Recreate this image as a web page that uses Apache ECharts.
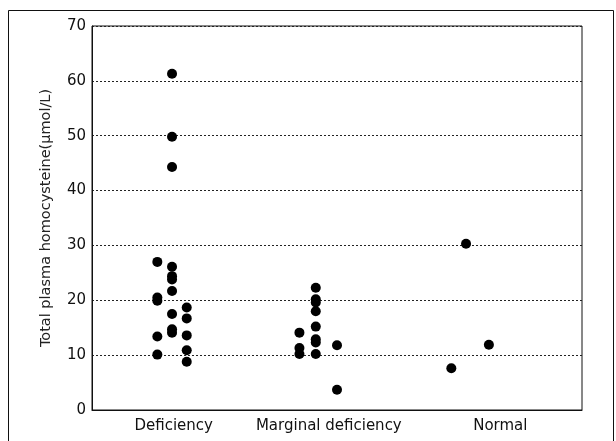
<!DOCTYPE html>
<html>
<head>
<meta charset="utf-8">
<script src="https://cdn.jsdelivr.net/npm/echarts@6/dist/echarts.min.js"></script>
<style>html,body{margin:0;padding:0;background:#fff}#c{width:616px;height:441px}</style>
</head>
<body>
<div id="c"></div>
<script>
const categories = ['Deficiency', 'Marginal deficiency', 'Normal'];
const categoryLabelX = [0.5, 1.45, 2.5];
const yTicks = [0, 10, 20, 30, 40, 50, 60, 70];

// Column positions (in category units) and values for each jittered column
const deficiencyColX = [0.40, 0.49, 0.58];
const deficiencyCols = [
  [27.0, 20.5, 19.9, 13.4, 10.1],
  [61.3, 49.8, 44.3, 26.1, 24.4, 23.8, 21.7, 17.5, 14.7, 14.1],
  [18.7, 16.7, 13.6, 10.9, 8.8]
];
const marginalColX = [1.27, 1.37, 1.50];
const marginalCols = [
  [14.1, 11.3, 10.2],
  [22.3, 20.2, 19.6, 18.0, 15.2, 12.9, 12.3, 10.2],
  [11.8, 3.7]
];
const normalColX = [2.20, 2.29, 2.43];
const normalCols = [
  [7.6],
  [30.3],
  [11.9]
];

function toPoints(colX, cols) {
  const pts = [];
  cols.forEach((vals, i) => vals.forEach(v => pts.push([colX[i], v])));
  return pts;
}

const data = []
  .concat(toPoints(deficiencyColX, deficiencyCols))
  .concat(toPoints(marginalColX, marginalCols))
  .concat(toPoints(normalColX, normalCols));

const FONT = 'DejaVu Sans';
const chart = echarts.init(document.getElementById('c'), null, {renderer: 'canvas'});
chart.setOption({
  animation: false,
  backgroundColor: '#fff',
  grid: {left: 92, right: 34, top: 26, bottom: 31, show: true, borderColor: '#111', borderWidth: 1, backgroundColor: 'transparent'},
  graphic: [{
    type: 'rect', silent: true,
    shape: {x: 8.5, y: 10.5, width: 605, height: 440},
    style: {fill: 'none', stroke: '#111', lineWidth: 1}
  }],
  xAxis: {
    type: 'value', min: 0, max: 3,
    axisLine: {show: true, lineStyle: {color: '#111', width: 1}},
    axisTick: {show: false},
    splitLine: {show: false},
    axisLabel: {
      customValues: categoryLabelX,
      formatter: function (v) {
        const i = categoryLabelX.findIndex(c => Math.abs(c - v) < 1e-6);
        return i >= 0 ? categories[i] : '';
      },
      color: '#111', fontFamily: FONT, fontSize: 15, margin: 9
    }
  },
  yAxis: {
    type: 'value', min: 0, max: 70, interval: 10,
    name: 'Total plasma homocysteine(\u03bcmol/L)',
    nameLocation: 'middle', nameGap: 38, nameRotate: 90,
    nameTextStyle: {color: '#222', fontFamily: FONT, fontSize: 14.5},
    axisLine: {show: true, lineStyle: {color: '#111', width: 1}},
    axisTick: {show: false},
    axisLabel: {
      customValues: yTicks,
      color: '#111', fontFamily: FONT, fontSize: 15, margin: 6
    },
    splitLine: {show: true, lineStyle: {color: '#222', type: [2, 2], width: 1}}
  },
  series: [{
    type: 'scatter',
    data: data,
    symbol: 'circle',
    symbolSize: 10,
    itemStyle: {color: '#000', opacity: 1}
  }]
});
</script>
</body>
</html>
